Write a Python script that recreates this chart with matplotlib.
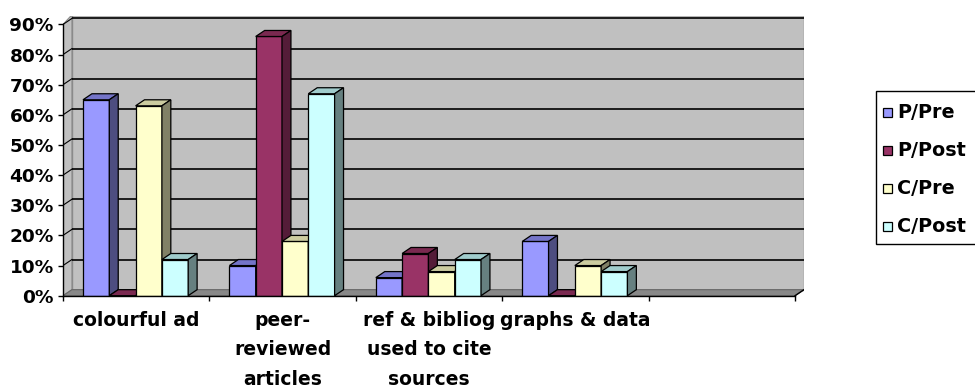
import matplotlib
matplotlib.use("Agg")
import matplotlib.pyplot as plt
from matplotlib.patches import Polygon, Rectangle

# ---- data -------------------------------------------------------------
categories = ["colourful ad", "peer-\nreviewed\narticles",
              "ref & bibliog\nused to cite\nsources", "graphs & data", ""]
series_names = ["P/Pre", "P/Post", "C/Pre", "C/Post"]
p_pre = [65, 10, 6, 18]
p_post = [0, 86, 14, 0]
c_pre = [63, 18, 8, 10]
c_post = [12, 67, 12, 8]
y_ticks = [0, 10, 20, 30, 40, 50, 60, 70, 80, 90]

series_values = [p_pre, p_post, c_pre, c_post]
face_colors = ["#9999FF", "#993366", "#FFFFCC", "#CCFFFF"]
top_colors = ["#7474C8", "#7A2950", "#CCCCA0", "#A0CCCC"]
side_colors = ["#4D4D80", "#541C38", "#808066", "#668080"]

plt.rcParams["font.family"] = ["DejaVu Sans"]
plt.rcParams["font.weight"] = "bold"

W, H = 975, 389
fig = plt.figure(figsize=(W / 100, H / 100), dpi=100)
fig.patch.set_facecolor("white")

# axes spans the front plane plus the depth of the back wall
ax = fig.add_axes([63 / W, 1 - 295.7 / H, 741 / W, 280 / H])
n_slots = len(categories)
DX = 0.061      # depth offset along x (category units)
DY = 2.0        # depth offset along y (percent units)
ymax = y_ticks[-1]
ax.set_xlim(0, n_slots + DX)
ax.set_ylim(0, 92.9)
ax.set_facecolor("none")

wall_col = "#C0C0C0"
# back wall
ax.add_patch(Rectangle((DX, DY), n_slots, ymax + 1.2, facecolor=wall_col,
                       edgecolor="#8A8A8A", lw=1.0, zorder=0.5))
# left side wall
ax.add_patch(Polygon([(0, 0), (DX, DY), (DX, ymax + DY + 1.2), (0, ymax)],
                     closed=True, facecolor=wall_col, edgecolor="#8A8A8A",
                     lw=0.8, zorder=0.6))
# floor
ax.add_patch(Polygon([(0, 0), (n_slots, 0), (n_slots + DX, DY), (DX, DY)],
                     closed=True, facecolor="#888888", edgecolor="#666666",
                     lw=0.8, zorder=0.7))

# gridlines on the back wall and side wall
for v in y_ticks[1:]:
    ax.plot([DX, n_slots + DX], [v + DY, v + DY], color="black", lw=1.2,
            zorder=1, solid_capstyle="butt")
    ax.plot([0, DX], [v, v + DY], color="black", lw=0.8, zorder=1)

# 3D columns
gap = 0.1366
bw = 0.1796
for i in range(len(p_pre)):
    for j, vals in enumerate(series_values):
        x0 = i + gap + j * bw
        h = vals[i]
        z = 3 + i + j * 0.1
        ax.bar(x0, h, bw, align="edge", color=face_colors[j],
               edgecolor="black", lw=0.9, zorder=z)
        ax.add_patch(Polygon([(x0, h), (x0 + bw, h), (x0 + bw + DX, h + DY),
                              (x0 + DX, h + DY)], closed=True,
                             facecolor=top_colors[j], edgecolor="black",
                             lw=0.9, zorder=z))
        ax.add_patch(Polygon([(x0 + bw, 0), (x0 + bw + DX, DY),
                              (x0 + bw + DX, h + DY), (x0 + bw, h)],
                             closed=True, facecolor=side_colors[j],
                             edgecolor="black", lw=0.9, zorder=z))

# axes lines
for s in ("top", "right"):
    ax.spines[s].set_visible(False)
ax.spines["left"].set_bounds(0, ymax)
ax.spines["bottom"].set_bounds(0, n_slots)
for s in ("left", "bottom"):
    ax.spines[s].set_linewidth(1.0)
    ax.spines[s].set_zorder(20)
ax.plot([n_slots, n_slots + DX], [0, DY], color="black", lw=1.0, zorder=20)

ax.set_yticks(y_ticks)
ax.set_yticklabels([f"{v}%" for v in y_ticks], fontsize=13.3,
                   fontweight="bold")
ax.tick_params(axis="y", length=3.6, width=1.0, pad=3)

ax.set_xticks(range(n_slots + 1))
ax.set_xticklabels([])
ax.tick_params(axis="x", which="major", length=3.6, width=1.0)
ax.set_xticks([k + 0.5 for k in range(n_slots)], minor=True)
ax.set_xticklabels(categories, minor=True, fontsize=13.5, fontweight="bold",
                   linespacing=1.7)
ax.tick_params(axis="x", which="minor", length=0, pad=11)

# legend box
fig.patches.append(Rectangle((876 / W, 1 - 244 / H), 120 / W, 153.3 / H,
                             transform=fig.transFigure, facecolor="white",
                             edgecolor="black", lw=1.0, zorder=5))
for k, name in enumerate(series_names):
    yc = 112.7 + k * 37.8
    fig.patches.append(Rectangle((883 / W, 1 - (yc + 4.5) / H), 9 / W, 9 / H,
                                 transform=fig.transFigure,
                                 facecolor=face_colors[k], edgecolor="black",
                                 lw=0.9, zorder=6))
    fig.text(897 / W, 1 - yc / H, name, fontsize=13.8, fontweight="bold",
             va="center", ha="left", zorder=7)

fig.savefig("out.png", dpi=100)
